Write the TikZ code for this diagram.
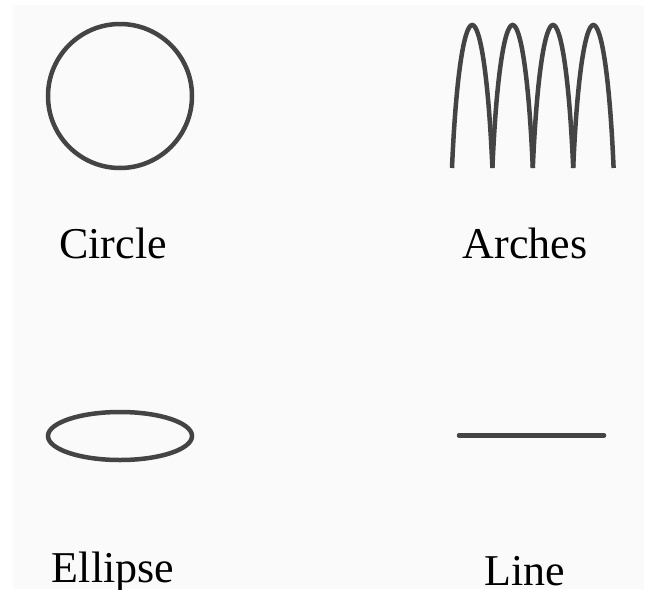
\documentclass[tikz,border=0pt]{standalone}
\usepackage{fontspec}
\setmainfont{Liberation Serif}
\usetikzlibrary{positioning}

\definecolor{shapegray}{HTML}{444444}
\definecolor{panelgray}{HTML}{FAFAFA}

\begin{document}
\begin{tikzpicture}[x=1pt,y=-1pt,
  shape line/.style={draw=shapegray,line width=4.5pt},
  shape label/.style={anchor=base,inner sep=0pt,font=\fontsize{44}{52}\selectfont}]

\useasboundingbox (0,0) rectangle (649,590);
\fill[panelgray] (13,5) rectangle (644,589);

% Circle
\draw[shape line] (120,96) circle (72);
\node[shape label] (circlelabel) at (113,258) {Circle};

% Arches (width 40.4, height 143)
\foreach \i in {0,...,3} {
  \draw[shape line] (452+40.4*\i,168)
    .. controls (456+40.4*\i,75) and (464.3+40.4*\i,25) .. (472.2+40.4*\i,25)
    .. controls (480.1+40.4*\i,25) and (488.4+40.4*\i,75) .. (492.4+40.4*\i,168);
}
\node[shape label] (archeslabel) at (525,258) {Arches};

% Ellipse
\draw[shape line] (120,436) ellipse (72 and 24);
\node[shape label] (ellipselabel) at (113,582) {Ellipse};

% Line
\draw[shape line,line cap=round] (459,435.5) -- (604,435.5);
\node[shape label] (linelabel) at (525,585) {Line};

\end{tikzpicture}
\end{document}
